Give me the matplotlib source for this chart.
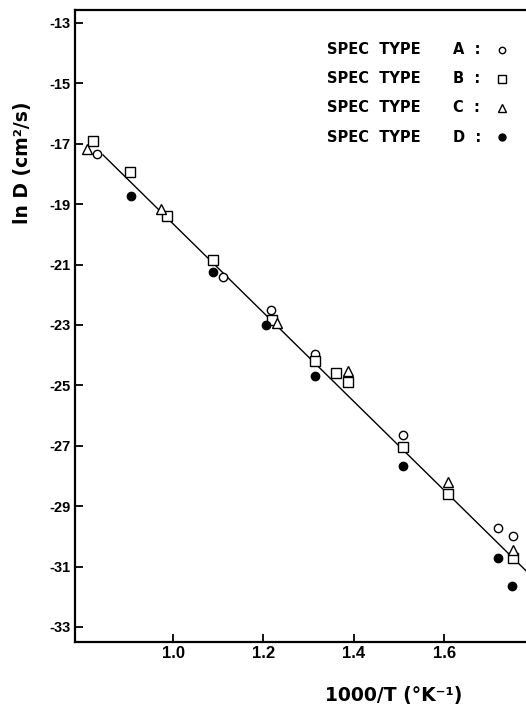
import matplotlib
matplotlib.use("Agg")
import matplotlib.pyplot as plt

plt.rcParams['font.family'] = ['Liberation Sans', 'DejaVu Sans']
plt.rcParams['font.weight'] = 'bold'

# ---- data ----
a_x = [0.832, 1.111, 1.216, 1.314, 1.509, 1.718, 1.752]
a_y = [-17.35, -21.42, -22.50, -23.97, -26.64, -29.73, -29.98]

b_x = [0.822, 0.905, 0.987, 1.088, 1.218, 1.314, 1.361, 1.387, 1.509, 1.608, 1.752]
b_y = [-16.90, -17.94, -19.38, -20.85, -22.83, -24.21, -24.60, -24.88, -27.05, -28.60, -30.73]

c_x = [0.809, 0.973, 1.230, 1.388, 1.609, 1.753]
c_y = [-17.18, -19.17, -22.92, -24.51, -28.21, -30.45]

d_x = [0.906, 1.089, 1.205, 1.314, 1.509, 1.718, 1.749]
d_y = [-18.73, -21.26, -23.00, -24.69, -27.67, -30.73, -31.66]

fit_x = [0.845, 1.80]
fit_y = [-17.37, -31.42]

x_ticks = [1.0, 1.2, 1.4, 1.6]
x_ticklabels = ["1.0", "1.2", "1.4", "1.6"]
y_ticks = [-13, -15, -17, -19, -21, -23, -25, -27, -29, -31, -33]
y_ticklabels = ["-13", "-15", "-17", "-19", "-21", "-23", "-25", "-27", "-29", "-31", "-33"]

legend_letters = ["A", "B", "C", "D"]

# ---- figure ----
W, H = 526, 710
fig = plt.figure(figsize=(W / 100, H / 100), dpi=100)
ax = fig.add_axes([75 / W, 68 / H, 451 / W, 632 / H])

ax.plot(fit_x, fit_y, color='black', lw=1.0, zorder=1, clip_on=True)

ax.plot(a_x, a_y, 'o', ms=6.0, mfc='white', mec='black', mew=1.0, ls='none', zorder=3)
ax.plot(b_x, b_y, 's', ms=6.8, mfc='white', mec='black', mew=1.0, ls='none', zorder=3)
ax.plot(c_x, c_y, '^', ms=7.4, mfc='white', mec='black', mew=1.0, ls='none', zorder=3)
ax.plot(d_x, d_y, 'o', ms=6.0, mfc='black', mec='black', mew=1.0, ls='none', zorder=4)

ax.set_xlim(0.783, 1.781)
ax.set_ylim(-33.5, -12.57)

ax.set_xticks(x_ticks)
ax.set_xticklabels(x_ticklabels, fontsize=12, fontweight='bold')
ax.set_yticks(y_ticks)
ax.set_yticklabels(y_ticklabels, fontsize=10.5, fontweight='bold')
ax.tick_params(axis='both', direction='in', length=5.5, width=1.3, color='black')
ax.tick_params(axis='y', pad=3)
ax.tick_params(axis='x', pad=3)

for s in ['left', 'bottom', 'top']:
    ax.spines[s].set_linewidth(1.6)
ax.spines['right'].set_visible(False)

# axis labels
lab_family = ['DejaVu Sans']
fig.text(23 / W, 1 - 163 / H, "ln D (cm²/s)", rotation=90, ha='center', va='center',
         fontsize=13.5, fontweight='bold', family=lab_family)
fig.text(394 / W, 1 - 695 / H, "1000/T (°K⁻¹)", ha='center', va='center',
         fontsize=13.5, fontweight='bold', family=lab_family)

# legend block
rows_y = [0.937, 0.891, 0.845, 0.799]
legend_styles = [dict(marker='o', ms=4.6, mfc='white'),
                 dict(marker='s', ms=5.6, mfc='white'),
                 dict(marker='^', ms=6.2, mfc='white'),
                 dict(marker='o', ms=5.0, mfc='black')]
for letter, yy, st in zip(legend_letters, rows_y, legend_styles):
    ax.text(0.559, yy, "SPEC  TYPE", transform=ax.transAxes, ha='left', va='center',
            fontsize=10.5, fontweight='bold', family=lab_family)
    ax.text(0.838, yy, letter + "  :", transform=ax.transAxes, ha='left', va='center',
            fontsize=10.5, fontweight='bold', family=lab_family)
    ax.plot([0.947], [yy], transform=ax.transAxes, ls='none', mec='black', mew=1.0,
            clip_on=False, **st)

fig.savefig("out.png", dpi=100)
